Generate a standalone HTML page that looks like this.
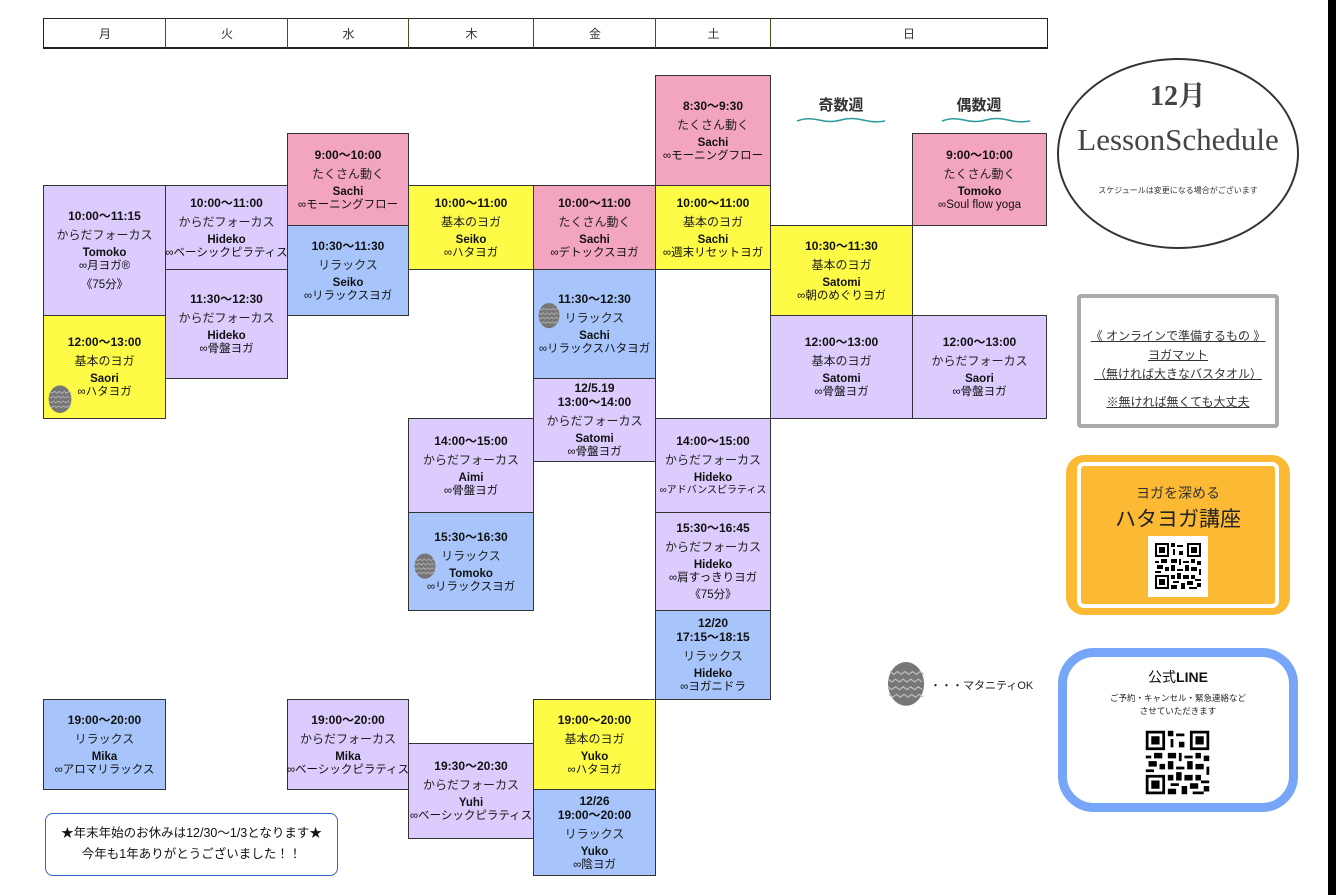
<!DOCTYPE html>
<html><head><meta charset="utf-8">
<style>
body{margin:0;width:1336px;height:895px;background:#fff;position:relative;overflow:hidden;font-family:"Liberation Sans","Noto Sans CJK JP",sans-serif;color:#111}
.hd{position:absolute;top:18px;height:28px;border-top:1px solid #222;border-bottom:2px solid #222;font-size:12px;display:flex;align-items:center;justify-content:center;color:#333}
.b{position:absolute;box-sizing:border-box;border:1px solid #333;display:flex;flex-direction:column;align-items:center;justify-content:center;text-align:center;font-size:12px;line-height:13px;color:#111}
.b .t{font-weight:bold;font-size:12px;line-height:14px}
.b .c{margin:5px 0 5px;color:#222;line-height:14px}
.b .n{font-weight:bold;font-size:11.5px;line-height:12px}
.b .k{font-size:11.5px;line-height:14px;white-space:nowrap}
.b .m{margin-top:5px}
.P{background:#f3a5c0}.Y{background:#fefb46}.L{background:#dccbfd}.B{background:#a7c5fb}
.egg{position:absolute}
</style></head><body>
<svg width="0" height="0" style="position:absolute"><defs>
<symbol id="egg" viewBox="0 0 40 50"><ellipse cx="20" cy="27" rx="19" ry="23" fill="#777"/><g stroke="#bbb" stroke-width="1.3" fill="none"><path d="M3 14 l4 3 4-3 4 3 4-3 4 3 4-3 4 3 4-3 4 3"/><path d="M1 22 l4 3 4-3 4 3 4-3 4 3 4-3 4 3 4-3 4 3"/><path d="M1 30 l4 3 4-3 4 3 4-3 4 3 4-3 4 3 4-3 4 3"/><path d="M2 38 l4 3 4-3 4 3 4-3 4 3 4-3 4 3 4-3 4 3"/></g></symbol>
<symbol id="qr" viewBox="0 0 25 25"><rect width="25" height="25" fill="#fff"/><g fill="#000"><path d="M1 1h7v7h-7zM17 1h7v7h-7zM1 17h7v7h-7z"/></g><g fill="#fff"><path d="M2 2h5v5h-5zM18 2h5v5h-5zM2 18h5v5h-5z"/></g><g fill="#000"><path d="M3 3h3v3h-3zM19 3h3v3h-3zM3 19h3v3h-3z"/><path d="M9 1h2v2h-2zM12 2h3v1h-3zM10 4h1v3h-1zM13 5h2v2h-2zM9 9h3v2h-3zM13 9h1v3h-1zM15 10h3v1h-3zM19 9h2v2h-2zM22 10h2v2h-2zM1 10h2v1h-2zM4 9h3v2h-3zM2 12h3v2h-3zM6 13h2v2h-2zM9 12h2v3h-2zM12 14h3v1h-3zM16 12h2v3h-2zM19 13h3v2h-3zM23 14h1v3h-1zM9 17h2v2h-2zM12 16h2v3h-2zM15 17h3v2h-3zM19 17h2v2h-2zM10 20h3v1h-3zM14 21h2v3h-2zM17 20h3v2h-3zM21 19h3v1h-3zM9 22h3v2h-3zM18 23h4v1h-4zM22 21h2v2h-2zM1 15h3v1h-3z"/></g></symbol>
</defs></svg>

<!-- header -->
<div class="hd" style="left:43px;width:122px;border-left:1px solid #222">月</div>
<div class="hd" style="left:165px;width:122px;border-left:1px solid #3a5a1a">火</div>
<div class="hd" style="left:287px;width:121px;border-left:1px solid #3a5a1a">水</div>
<div class="hd" style="left:408px;width:125px;border-left:1px solid #3a5a1a">木</div>
<div class="hd" style="left:533px;width:122px;border-left:1px solid #3a5a1a">金</div>
<div class="hd" style="left:655px;width:115px;border-left:1px solid #3a5a1a">土</div>
<div class="hd" style="left:770px;width:276px;border-left:1px solid #3a5a1a;border-right:1px solid #222">日</div>

<!-- Mon -->
<div class="b L" style="left:43px;top:185px;width:123px;height:131px"><span class="t">10:00〜11:15</span><span class="c">からだフォーカス</span><span class="n">Tomoko</span><span class="k">∞月ヨガ®</span><span class="k m">《75分》</span></div>
<div class="b Y" style="left:43px;top:315px;width:123px;height:104px"><span class="t">12:00〜13:00</span><span class="c">基本のヨガ</span><span class="n">Saori</span><span class="k">∞ハタヨガ</span></div>
<svg class="egg" style="left:48px;top:383px" width="24" height="30"><use href="#egg"/></svg>
<div class="b B" style="left:43px;top:699px;width:123px;height:91px"><span class="t">19:00〜20:00</span><span class="c">リラックス</span><span class="n">Mika</span><span class="k">∞アロマリラックス</span></div>
<!-- Tue -->
<div class="b L" style="left:165px;top:185px;width:123px;height:85px"><span class="t">10:00〜11:00</span><span class="c">からだフォーカス</span><span class="n">Hideko</span><span class="k">∞ベーシックピラティス</span></div>
<div class="b L" style="left:165px;top:269px;width:123px;height:110px"><span class="t">11:30〜12:30</span><span class="c">からだフォーカス</span><span class="n">Hideko</span><span class="k">∞骨盤ヨガ</span></div>
<!-- Wed -->
<div class="b P" style="left:287px;top:133px;width:122px;height:93px"><span class="t">9:00〜10:00</span><span class="c">たくさん動く</span><span class="n">Sachi</span><span class="k">∞モーニングフロー</span></div>
<div class="b B" style="left:287px;top:225px;width:122px;height:91px"><span class="t">10:30〜11:30</span><span class="c">リラックス</span><span class="n">Seiko</span><span class="k">∞リラックスヨガ</span></div>
<div class="b L" style="left:287px;top:699px;width:122px;height:91px"><span class="t">19:00〜20:00</span><span class="c">からだフォーカス</span><span class="n">Mika</span><span class="k">∞ベーシックピラティス</span></div>
<!-- Thu -->
<div class="b Y" style="left:408px;top:185px;width:126px;height:85px"><span class="t">10:00〜11:00</span><span class="c">基本のヨガ</span><span class="n">Seiko</span><span class="k">∞ハタヨガ</span></div>
<div class="b L" style="left:408px;top:418px;width:126px;height:95px"><span class="t">14:00〜15:00</span><span class="c">からだフォーカス</span><span class="n">Aimi</span><span class="k">∞骨盤ヨガ</span></div>
<div class="b B" style="left:408px;top:512px;width:126px;height:99px"><span class="t">15:30〜16:30</span><span class="c">リラックス</span><span class="n">Tomoko</span><span class="k">∞リラックスヨガ</span></div>
<svg class="egg" style="left:414px;top:551px" width="22" height="28"><use href="#egg"/></svg>
<div class="b L" style="left:408px;top:743px;width:126px;height:96px"><span class="t">19:30〜20:30</span><span class="c">からだフォーカス</span><span class="n">Yuhi</span><span class="k">∞ベーシックピラティス</span></div>
<!-- Fri -->
<div class="b P" style="left:533px;top:185px;width:123px;height:85px"><span class="t">10:00〜11:00</span><span class="c">たくさん動く</span><span class="n">Sachi</span><span class="k">∞デトックスヨガ</span></div>
<div class="b B" style="left:533px;top:269px;width:123px;height:110px"><span class="t">11:30〜12:30</span><span class="c">リラックス</span><span class="n">Sachi</span><span class="k">∞リラックスハタヨガ</span></div>
<svg class="egg" style="left:538px;top:300px" width="22" height="29"><use href="#egg"/></svg>
<div class="b L" style="left:533px;top:378px;width:123px;height:84px"><span class="t">12/5.19</span><span class="t">13:00〜14:00</span><span class="c">からだフォーカス</span><span class="n">Satomi</span><span class="k">∞骨盤ヨガ</span></div>
<div class="b Y" style="left:533px;top:699px;width:123px;height:91px"><span class="t">19:00〜20:00</span><span class="c">基本のヨガ</span><span class="n">Yuko</span><span class="k">∞ハタヨガ</span></div>
<div class="b B" style="left:533px;top:789px;width:123px;height:87px"><span class="t">12/26</span><span class="t">19:00〜20:00</span><span class="c">リラックス</span><span class="n">Yuko</span><span class="k">∞陰ヨガ</span></div>
<!-- Sat -->
<div class="b P" style="left:655px;top:75px;width:116px;height:111px"><span class="t">8:30〜9:30</span><span class="c">たくさん動く</span><span class="n">Sachi</span><span class="k">∞モーニングフロー</span></div>
<div class="b Y" style="left:655px;top:185px;width:116px;height:85px"><span class="t">10:00〜11:00</span><span class="c">基本のヨガ</span><span class="n">Sachi</span><span class="k">∞週末リセットヨガ</span></div>
<div class="b L" style="left:655px;top:418px;width:116px;height:95px"><span class="t">14:00〜15:00</span><span class="c">からだフォーカス</span><span class="n">Hideko</span><span class="k" style="font-size:10px">∞アドバンスピラティス</span></div>
<div class="b L" style="left:655px;top:512px;width:116px;height:99px"><span class="t">15:30〜16:45</span><span class="c">からだフォーカス</span><span class="n">Hideko</span><span class="k">∞肩すっきりヨガ</span><span class="k" style="margin-top:3px">《75分》</span></div>
<div class="b B" style="left:655px;top:610px;width:116px;height:90px"><span class="t">12/20</span><span class="t">17:15〜18:15</span><span class="c">リラックス</span><span class="n">Hideko</span><span class="k">∞ヨガニドラ</span></div>
<!-- Sun -->
<div style="position:absolute;left:770px;top:94px;width:142px;text-align:center;font-size:15px;font-weight:bold;color:#333">奇数週</div>
<div style="position:absolute;left:912px;top:94px;width:134px;text-align:center;font-size:15px;font-weight:bold;color:#333">偶数週</div>
<svg style="position:absolute;left:795px;top:116px" width="92" height="8"><path d="M2 5 Q12 1 24 4 T46 4 T68 4 T90 5" stroke="#2a9a9a" stroke-width="1.5" fill="none"/></svg>
<svg style="position:absolute;left:940px;top:116px" width="92" height="8"><path d="M2 5 Q12 1 24 4 T46 4 T68 4 T90 5" stroke="#2a9a9a" stroke-width="1.5" fill="none"/></svg>
<div class="b P" style="left:912px;top:133px;width:135px;height:93px"><span class="t">9:00〜10:00</span><span class="c">たくさん動く</span><span class="n">Tomoko</span><span class="k">∞Soul flow yoga</span></div>
<div class="b Y" style="left:770px;top:225px;width:143px;height:91px"><span class="t">10:30〜11:30</span><span class="c">基本のヨガ</span><span class="n">Satomi</span><span class="k">∞朝のめぐりヨガ</span></div>
<div class="b L" style="left:770px;top:315px;width:143px;height:104px"><span class="t">12:00〜13:00</span><span class="c">基本のヨガ</span><span class="n">Satomi</span><span class="k">∞骨盤ヨガ</span></div>
<div class="b L" style="left:912px;top:315px;width:135px;height:104px"><span class="t">12:00〜13:00</span><span class="c">からだフォーカス</span><span class="n">Saori</span><span class="k">∞骨盤ヨガ</span></div>

<!-- legend -->
<svg class="egg" style="left:887px;top:657px" width="38" height="50"><use href="#egg"/></svg>
<div style="position:absolute;left:930px;top:677px;font-size:11px;color:#222">・・・マタニティOK</div>

<!-- notice -->
<div style="position:absolute;left:45px;top:813px;width:293px;height:63px;box-sizing:border-box;border:1px solid #3366cc;border-radius:8px;text-align:center;font-size:12.5px;line-height:21px;padding-top:9px;color:#111">★年末年始のお休みは12/30〜1/3となります★<br>今年も1年ありがとうございました！！</div>

<!-- circle -->
<div style="position:absolute;left:1057px;top:58px;width:242px;height:191px;box-sizing:border-box;border:2px solid #333;border-radius:50%"></div>
<div style="position:absolute;left:1057px;top:74px;width:242px;text-align:center;font-family:'Liberation Serif','Noto Serif CJK SC',serif;font-weight:bold;font-size:28px;color:#444">12月</div>
<div style="position:absolute;left:1057px;top:122px;width:242px;text-align:center;font-family:'Liberation Serif',serif;font-size:31px;color:#444">LessonSchedule</div>
<div style="position:absolute;left:1057px;top:185px;width:242px;text-align:center;font-size:8px;color:#333">スケジュールは変更になる場合がございます</div>

<!-- online box -->
<div style="position:absolute;left:1077px;top:294px;width:202px;height:134px;box-sizing:border-box;border:4px solid #aaa;border-radius:4px;text-align:center;font-size:12px;line-height:19px;color:#333;padding-top:29px">
<span style="text-decoration:underline">《 オンラインで準備するもの 》</span><br><span style="text-decoration:underline">ヨガマット</span><br><span style="text-decoration:underline">（無ければ大きなバスタオル）</span><br><span style="display:inline-block;margin-top:9px;text-decoration:underline">※無ければ無くても大丈夫</span></div>

<!-- orange box -->
<div style="position:absolute;left:1066px;top:455px;width:224px;height:160px;box-sizing:border-box;background:#fbb934;border-radius:18px"></div>
<div style="position:absolute;left:1077px;top:462px;width:202px;height:146px;box-sizing:border-box;border:4px solid #fff;background:#fbb934;border-radius:7px"></div>
<div style="position:absolute;left:1066px;top:483px;width:224px;text-align:center;font-size:14px;color:#333">ヨガを深める</div>
<div style="position:absolute;left:1066px;top:503px;width:224px;text-align:center;font-size:21px;color:#222">ハタヨガ講座</div>
<div style="position:absolute;left:1148px;top:536px;width:60px;height:61px;background:#fff"></div>
<svg style="position:absolute;left:1153px;top:541px" width="50" height="50"><use href="#qr"/></svg>

<!-- LINE box -->
<div style="position:absolute;left:1058px;top:648px;width:240px;height:164px;box-sizing:border-box;border:9px solid #77a6f9;border-radius:36px"></div>
<div style="position:absolute;left:1058px;top:667px;width:240px;text-align:center;font-size:14px;color:#111">公式<b>LINE</b></div>
<div style="position:absolute;left:1058px;top:692px;width:240px;text-align:center;font-size:8.5px;line-height:13px;color:#222">ご予約・キャンセル・緊急連絡など<br>させていただきます</div>
<svg style="position:absolute;left:1143px;top:728px" width="69" height="69"><use href="#qr"/></svg>

<!-- right black strip -->
<div style="position:absolute;left:1328px;top:0;width:8px;height:895px;background:#000"></div>
</body></html>
